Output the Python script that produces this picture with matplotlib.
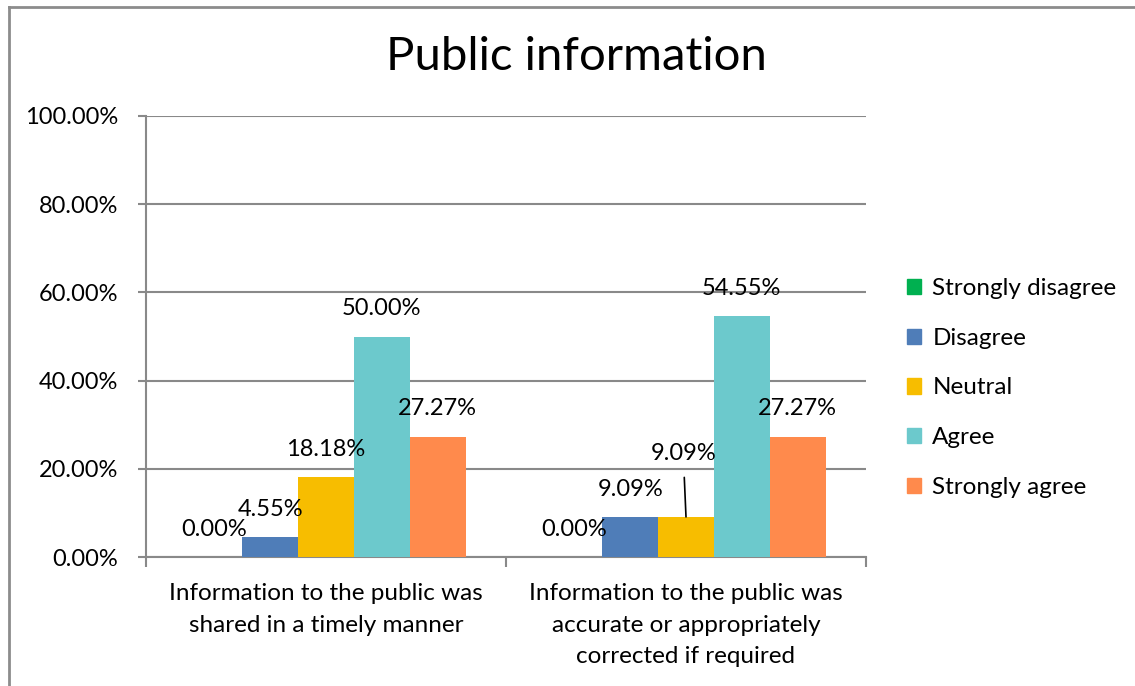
import matplotlib.pyplot as plt
import numpy as np
from matplotlib.patches import Rectangle
from matplotlib.lines import Line2D
from matplotlib.ticker import FuncFormatter

plt.rcParams['font.family'] = ['Lato', 'DejaVu Sans']

# data
categories = ["Information to the public was\nshared in a timely manner",
              "Information to the public was\naccurate or appropriately\ncorrected if required"]
series = ["Strongly disagree", "Disagree", "Neutral", "Agree", "Strongly agree"]
values = [
    [0.00, 0.00],    # Strongly disagree
    [4.55, 9.09],    # Disagree
    [18.18, 9.09],   # Neutral
    [50.00, 54.55],  # Agree
    [27.27, 27.27],  # Strongly agree
]
colors = ['#00B050', '#4F7DB8', '#F7BD00', '#6CC9CC', '#FF8A4C']

fig = plt.figure(figsize=(11.35, 6.86), dpi=100)
ax = fig.add_axes([146/1135, 1-557/686, 720/1135, 441/686])

grid_c = '#898989'
fs = 17
x = np.arange(len(categories))
w = 0.155
for i, s in enumerate(series):
    pos = x + (i-2)*w
    bars = ax.bar(pos, values[i], w, color=colors[i], label=s, zorder=3)
    for j, (px, v) in enumerate(zip(pos, values[i])):
        if i == 2 and j == 1:
            # label moved up with a leader line
            ax.annotate(f"{v:.2f}%", xy=(px, v), xytext=(-2, 46), textcoords='offset points',
                        ha='center', va='center', fontsize=fs, zorder=5,
                        arrowprops=dict(arrowstyle='-', color='black', lw=1.2,
                                        shrinkA=8, shrinkB=0))
        else:
            ax.annotate(f"{v:.2f}%", xy=(px, v), xytext=(0, 20), textcoords='offset points',
                        ha='center', va='center', fontsize=fs, zorder=5)

ax.set_xlim(-0.5, 1.5)
ax.set_ylim(0, 100)
ax.set_yticks([0, 20, 40, 60, 80, 100])
ax.yaxis.set_major_formatter(FuncFormatter(lambda v, p: f"{v:.2f}%"))
ax.grid(axis='y', color=grid_c, linewidth=1.5, zorder=0)
ax.set_xticks(x)
ax.set_xticklabels(categories, fontsize=17.5, linespacing=1.6)
ax.set_xticks([-0.5, 0.5, 1.5], minor=True)
ax.tick_params(axis='x', which='major', length=0, pad=19)
ax.tick_params(axis='x', which='minor', length=7, width=1.5, color=grid_c)
ax.tick_params(axis='y', length=6, width=1.5, color=grid_c, labelsize=fs, pad=14)
for side in ['top', 'right']:
    ax.spines[side].set_visible(False)
for side in ['left', 'bottom']:
    ax.spines[side].set_color(grid_c)
    ax.spines[side].set_linewidth(1.5)

fig.text(576/1135, 1-57/686, "Public information", ha='center', va='center', fontsize=34)

handles = [Rectangle((0, 0), 1, 1, color=c) for c in colors]
fig.legend(handles, series, loc='center left', bbox_to_anchor=(885/1135, 1-388/686),
           frameon=False, fontsize=17.5, handlelength=0.6, handleheight=0.6,
           handletextpad=0.45, labelspacing=1.18)

# outer chart frame
fig.add_artist(Line2D([9/1135, 9/1135], [0, 1-7/686], color='#8c8c8c', lw=2, transform=fig.transFigure))
fig.add_artist(Line2D([9/1135, 1], [1-7/686, 1-7/686], color='#8c8c8c', lw=2, transform=fig.transFigure))

fig.savefig("out.png", dpi=100)
